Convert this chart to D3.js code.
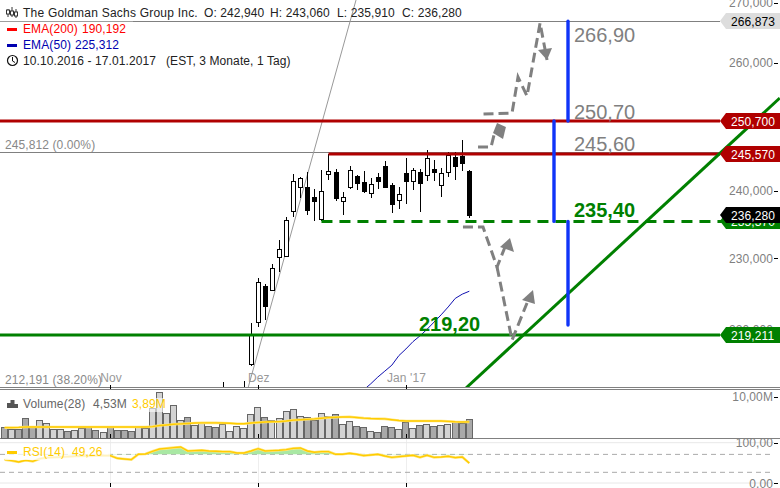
<!DOCTYPE html>
<html><head><meta charset="utf-8">
<script src="https://cdn.jsdelivr.net/npm/d3@7"></script>
<style>html,body{margin:0;padding:0;background:#fff}svg{display:block}text{font-family:"Liberation Sans",Arial,sans-serif;font-size:12px;letter-spacing:.1px}</style>
</head><body><svg id="c" width="780" height="488"></svg>
<script>
// Candles (first index = candleStart)
const candleStart = 29;
const open  = [209,208,208,210,208,208,209,215.2,221.0,226.06,225.5,230.2,230.4,236.9,240.6,240.5,239.0,235.75,242.5,242.8,238.4,240.5,242.2,241.25,239.6,242.0,243.7,240.8,238.55,242.65,241.4,242.8,242.35,243.25,240.8,242.8,245.1,245.3,242.94];
const close = [210,209,209,211,209,209,211,219.2,226.6,223.3,228.6,231.35,235.6,241.4,241.9,237.05,238.4,239.9,242.96,238.85,239.0,243.1,241.2,239.9,240.95,241.4,240.5,238.0,239.45,241.4,243.1,241.1,244.95,242.8,242.65,245.4,243.7,244.2,236.28];
const high  = [211.9,210.5,211,212.8,211,211,213,220.8,227.2,226.3,229.2,232.7,236.05,242.5,242.0,242.8,240.2,243.1,245.6,243.3,239.75,243.7,242.35,242.96,241.9,242.65,244.5,241.1,240.5,244.95,243.4,243.3,246.2,244.65,243.4,245.9,245.9,247.8,243.06];
const low   = [207,207,207,207,207,207,208,215.0,220.3,221.3,225.4,228.05,230.3,236.05,238.85,236.35,235.45,235.45,241.6,238.4,236.35,240.2,240.05,239.6,238.85,240.3,240.45,236.6,237.3,238.0,240.05,236.8,241.4,241.4,239.05,242.05,241.6,242.96,235.91];
// EMA(50), first index = emaStart
const emaStart = 52;
const ema50 = [211.8,212.6,213.5,214.3,215.1,216.4,217.3,218.3,219.1,220.0,221.0,222.0,223.1,224.3,224.9,225.312];
// Volume (millions), first index = 1
const volume = [2.66,2.18,2.18,4.84,2.9,4.35,3.63,2.18,2.18,1.61,1.94,2.42,2.9,1.94,1.45,2.9,1.94,1.94,1.69,2.9,2.42,7.26,11.13,6.05,7.98,4.35,5.08,3.15,3.87,2.9,2.66,3.39,1.69,2.9,2.42,5.81,7.5,5.08,4.35,4.84,6.53,7.02,5.32,5.08,4.35,6.05,5.32,5.81,3.39,4.11,2.9,2.66,1.69,1.45,2.9,2.66,2.18,3.87,2.42,3.15,3.39,2.9,3.15,3.39,3.87,3.63,4.53];
const volumeDown = [1,0,1,1,1,0,0,0,0,1,0,0,1,1,0,1,1,1,1,0,0,0,0,0,0,0,1,0,0,1,1,0,0,0,0,0,0,1,0,0,0,0,0,1,1,0,0,1,0,0,1,1,0,1,1,1,0,1,0,1,0,1,0,0,1,1,1];
const volumeMA = [2.5,2.5,2.55,2.65,2.65,2.65,2.65,2.65,2.65,2.65,2.65,2.65,2.65,2.65,2.65,2.65,2.65,2.65,2.65,2.65,2.65,2.75,3.0,3.15,3.3,3.4,3.5,3.6,3.65,3.65,3.65,3.6,3.55,3.45,3.45,3.6,3.75,3.87,3.9,3.95,4.1,4.3,4.4,4.5,4.6,4.75,4.9,5.0,5.05,5.08,4.95,4.8,4.7,4.65,4.6,4.4,4.2,4.1,4.1,4.1,4.1,4.1,4.1,4.0,3.9,3.85,3.89];
// RSI, first index = 1
const rsi = [57.9,55.5,52.2,56.3,53.8,60.4,62.9,63.7,64.6,65.4,66.2,67,67,67.9,67.9,67.9,61.3,59.6,58,71.2,72,78.6,84.4,86,87.7,89.4,79.5,80.3,81.1,79.5,78.6,77.8,77.8,74.5,74.5,79.5,85.2,79.5,80.3,81.1,82.8,86,86.9,79.5,76.2,77.8,77.8,71.2,71.2,73.7,71.2,67.9,69.5,71.2,67,63.7,65.4,67,68.7,63.7,68.7,63.7,64.6,66.2,62.9,64.6,49.26];
const rsiLevels = [71,26.5];
// Axis
const priceTicks = [270,260,240,230,220];
const volumeTicks = [10];
const rsiTicks = [100,0];
const monthTicks = [{i:16,label:"Nov",dx:-10},{i:37,label:"Dez",dx:-10},{i:58,label:"Jan '17",dx:-19}];
// Levels / annotations in (bar index, price)
const levels = [
 {p:266.873,label:"266,873",fill:"#dddddd",tc:"#000"},
 {p:250.7,label:"250,700",fill:"#b00000",tc:"#fff"},
 {p:245.57,label:"245,570",fill:"#b00000",tc:"#fff"},
 {p:235.4,label:"235,370",fill:"#008000",tc:"#fff"},
 {p:219.211,label:"219,211",fill:"#008000",tc:"#fff"},
 {p:236.28,label:"236,280",fill:"#000000",tc:"#fff"}];
const trendGray = [[35.57,212.04],[50.91,270.46]];
const trendGreen = [[66.53,212.04],[111.1,254.34]];
const blueBars = [[[81.02,266.9],[81.02,250.7]],[[79.03,250.7],[79.03,235.4]],[[81.02,235.4],[81.02,220.6]]];
const dashPaths = [
 [[66.1,234.57],[68.95,234.57],[70.94,228.76],[72.07,231.65]],
 [[70.94,228.76],[73.07,218.52],[75.2,223.65]],
 [[68.24,246.64],[70.09,246.64],[70.51,248.51]],
 [[69.02,251.8],[73.07,251.96],[73.92,257.71],[75.2,254.66],[77.05,266.59],[78.04,260.48]]];
const arrowHeads = [
 [[72.78,232.96],[71.36,231.65],[73.35,230.93]],
 [[76.05,225.49],[74.49,224.08],[76.33,223.52]],
 [[70.94,250.39],[72.2,249.76],[71.79,247.88],[70.37,248.82]],
 [[78.04,260.48],[76.76,262.12],[78.75,262.44]]];
const bigLabels = [
 {t:"266,90",x:574,p:266.9,dy:21,c:"#808080",w:"normal"},
 {t:"250,70",x:574,p:250.7,dy:-2.5,c:"#808080",w:"normal"},
 {t:"245,60",x:574,p:245.6,dy:-2.5,c:"#808080",w:"normal"},
 {t:"235,40",x:574,p:235.4,dy:-4,c:"#008000",w:"bold"},
 {t:"219,20",x:419,p:219.2,dy:-4,c:"#008000",w:"bold"}];

const svg = d3.select("#c");
const x = d3.scaleLinear().domain([0,67]).range([-2.4,469.3]);
const y = d3.scaleLog().domain([219.211,250.7]).range([335,121]);
const yV = d3.scaleLinear().domain([0,10]).range([438,396.5]);
const yR = d3.scaleLinear().domain([0,100]).range([483,442.7]);
const W = 780, plotR = 720;
const defs = svg.append("defs");
defs.append("clipPath").attr("id","m").append("rect").attr("x",0).attr("y",0).attr("width",W).attr("height",388);
defs.append("clipPath").attr("id","ra").append("rect").attr("x",0).attr("y",0).attr("width",W).attr("height",yR(rsiLevels[0]));
const main = svg.append("g").attr("clip-path","url(#m)");
const sx = v=>Math.round(x(v))+.5;
const ln = d3.line().x(d=>x(d[0])).y(d=>y(d[1]));

// horizontal reference lines
[[266.873],[245.812],[212.191]].forEach(([p])=>main.append("line").attr("x1",0).attr("x2",plotR).attr("y1",Math.round(y(p))+.5).attr("y2",Math.round(y(p))+.5).attr("stroke","#808080"));

// gray trend
main.append("path").attr("d",ln(trendGray)).attr("stroke","#999").attr("stroke-width",1).attr("fill","none");

// candles
open.forEach((o,k)=>{
 const i=k+candleStart,c=close[k],g=main.append("g"),cx=sx(i),up=c>=o;
 g.append("line").attr("x1",cx).attr("x2",cx).attr("y1",y(high[k])).attr("y2",y(low[k])).attr("stroke","#000").attr("shape-rendering","crispEdges");
 g.append("rect").attr("x",cx-2).attr("width",4).attr("y",Math.round(y(Math.max(o,c)))+.5).attr("height",Math.max(2,Math.round(Math.abs(y(o)-y(c))))).attr("fill",up?"#fff":"#000").attr("stroke","#000").attr("shape-rendering","crispEdges");
});

// EMA50
main.append("path").attr("d",d3.line().x((d,k)=>x(k+emaStart)).y(d=>y(d))(ema50)).attr("fill","none").attr("stroke","#1010b0").attr("stroke-width",1);

// levels
main.append("line").attr("x1",0).attr("x2",plotR).attr("y1",y(250.7)).attr("y2",y(250.7)).attr("stroke","#b00000").attr("stroke-width",3);
main.append("line").attr("x1",x(47)).attr("x2",plotR).attr("y1",y(245.57)).attr("y2",y(245.57)).attr("stroke","#b00000").attr("stroke-width",3);
main.append("line").attr("x1",0).attr("x2",plotR).attr("y1",y(219.211)).attr("y2",y(219.211)).attr("stroke","#008000").attr("stroke-width",3);
main.append("line").attr("x1",x(46)).attr("x2",W).attr("y1",y(235.4)).attr("y2",y(235.4)).attr("stroke","#008000").attr("stroke-width",3).attr("stroke-dasharray","11 7");
main.append("path").attr("d",ln(trendGreen)).attr("stroke","#008000").attr("stroke-width",3).attr("fill","none");

// dashed gray paths + heads
dashPaths.forEach(p=>main.append("path").attr("d",ln(p)).attr("fill","none").attr("stroke","#808080").attr("stroke-width",3).attr("stroke-dasharray","10 5"));
arrowHeads.forEach(p=>main.append("path").attr("d",ln(p)+"Z").attr("fill","#808080"));

// blue verticals
blueBars.forEach(b=>main.append("path").attr("d",ln(b)).attr("stroke","#1034f8").attr("stroke-width",3.4).attr("stroke-linecap","round").attr("fill","none"));

// big labels
bigLabels.forEach(d=>main.append("text").attr("x",d.x).attr("y",y(d.p)+d.dy).text(d.t).attr("fill",d.c).attr("font-weight",d.w).style("font-size","20px").style("letter-spacing","0"));

// small gray labels
const gray=(t,xx,yy,c="#888")=>svg.append("text").attr("x",xx).attr("y",yy).attr("fill",c).text(t);
gray("245,812 (0.00%)",5,149);
gray("212,191 (38.20%)",5,384);
monthTicks.forEach(m=>gray(m.label,x(m.i)+m.dx,382,"#999"));

// price axis
priceTicks.forEach(t=>{
 const yy=y(t);
 svg.append("text").attr("x",773).attr("y",yy+4.5).attr("text-anchor","end").attr("fill","#808080").text(d3.format(",")(t*1000));
 svg.append("line").attr("x1",774).attr("x2",778).attr("y1",Math.round(yy)+.5).attr("y2",Math.round(yy)+.5).attr("stroke","#000");
});

// tags
levels.forEach(l=>{
 const c=Math.round(y(l.p)),g=svg.append("g");
 g.append("path").attr("d",d3.line()([[720,c],[726,c-8],[780,c-8],[780,c+8],[726,c+8]])+"Z").attr("fill",l.fill);
 g.append("text").attr("x",731).attr("y",c+4.5).attr("fill",l.tc).text(l.label);
});

// panel frames
[[387.5,"#808080"],[389.5,"#808080"],[438.5,"#808080"]].forEach(([yy,c])=>svg.append("line").attr("x1",0).attr("x2",W).attr("y1",yy).attr("y2",yy).attr("stroke",c));

// month grid
monthTicks.forEach(m=>{
 const xx=sx(m.i);
 svg.append("line").attr("x1",xx).attr("x2",xx).attr("y1",439).attr("y2",483).attr("stroke","#eeeeee");
});

// volume
volume.forEach((v,k)=>{
 const i=k+1,cx=Math.round(x(i)-.7)+.5;
 svg.append("rect").attr("x",cx-3).attr("width",6).attr("y",Math.round(yV(v))+.5).attr("height",438-Math.round(yV(v))).attr("fill",volumeDown[k]?"#a9a9a9":"#d3d3d3").attr("stroke","#666").attr("shape-rendering","crispEdges");
});
const lineV=d3.line().x((d,k)=>x(k+1)).y(d=>yV(d));
svg.append("path").attr("d",lineV(volumeMA)).attr("fill","none").attr("stroke","#ffe680").attr("stroke-width",2.6);
svg.append("path").attr("d",lineV(volumeMA)).attr("fill","none").attr("stroke","#ffcc00").attr("stroke-width",1.4);

// RSI
rsiTicks.forEach(t=>svg.append("line").attr("x1",0).attr("x2",W-6).attr("y1",yR(t)).attr("y2",yR(t)).attr("stroke","#e8e8e8"));
rsiLevels.forEach(t=>svg.append("line").attr("x1",0).attr("x2",W-6).attr("y1",yR(t)).attr("y2",yR(t)).attr("stroke","#aaa").attr("stroke-dasharray","5 4"));
svg.append("path").attr("clip-path","url(#ra)").attr("d",d3.area().x((d,k)=>x(k+1)).y0(yR(rsiLevels[0])).y1(d=>yR(d))(rsi)).attr("fill","#a9e8a4");
const lineR=d3.line().x((d,k)=>x(k+1)).y(d=>yR(d));
svg.append("path").attr("d",lineR(rsi)).attr("fill","none").attr("stroke","#ffe680").attr("stroke-width",2.6);
svg.append("path").attr("d",lineR(rsi)).attr("fill","none").attr("stroke","#ffcc00").attr("stroke-width",1.4);

// x ticks
monthTicks.forEach(m=>{
 const xx=sx(m.i);
 [[385,389],[434,438],[483,487]].forEach(([a,b])=>svg.append("line").attr("x1",xx).attr("x2",xx).attr("y1",a).attr("y2",b).attr("stroke","#000"));
});

// lower axes
volumeTicks.forEach(t=>{
 svg.append("text").attr("x",773).attr("y",yV(t)+4.5).attr("text-anchor","end").attr("fill","#808080").text(t+",00M");
 svg.append("line").attr("x1",774).attr("x2",778).attr("y1",Math.round(yV(t))+.5).attr("y2",Math.round(yV(t))+.5).attr("stroke","#000");
});
rsiTicks.forEach(t=>{
 svg.append("text").attr("x",773).attr("y",yR(t)+4.5).attr("text-anchor","end").attr("fill","#808080").text(t+",00");
 svg.append("line").attr("x1",774).attr("x2",778).attr("y1",Math.round(yR(t))+.5).attr("y2",Math.round(yR(t))+.5).attr("stroke","#000");
});

// legends
svg.append("rect").attr("x",0).attr("y",2).attr("width",133).attr("height",19.4).attr("fill","#fff").attr("opacity",.6);
svg.append("rect").attr("x",5).attr("y",398).attr("width",165).attr("height",14).attr("fill","#fff").attr("opacity",.6);
svg.append("rect").attr("x",5).attr("y",446).attr("width",105).attr("height",14).attr("fill","#fff").attr("opacity",.75);
const T=(t,xx,yy,c)=>svg.append("text").attr("x",xx).attr("y",yy).attr("fill",c).text(t);
// candle icon
[[8,9,17,10,14],[12,7,17,11,15],[16,9,18,12,16]].forEach(([cx,a,b,c,d])=>{
 svg.append("line").attr("x1",cx).attr("x2",cx).attr("y1",a).attr("y2",b).attr("stroke","#333");
 svg.append("rect").attr("x",cx-1.5).attr("y",c).attr("width",3).attr("height",d-c).attr("fill","#fff").attr("stroke","#333");
});
T("The Goldman Sachs Group Inc.",23,17,"#222").style("letter-spacing",".22px");
T("O: 242,940",204,17,"#222");T("H: 243,060",270,17,"#222");T("L: 235,910",337,17,"#222");T("C: 236,280",402,17,"#222");
svg.append("rect").attr("x",7).attr("y",28).attr("width",10).attr("height",3).attr("fill","#ff0000");
T("EMA(200)",23,33,"#ff0000");T("190,192",82,33,"#ff0000");
svg.append("rect").attr("x",7).attr("y",44).attr("width",10).attr("height",3).attr("fill","#0000b0");
T("EMA(50)",23,49,"#0000b0");T("225,312",75,49,"#0000b0");
svg.append("circle").attr("cx",12.5).attr("cy",60.5).attr("r",5).attr("fill","none").attr("stroke","#111").attr("stroke-width",1.2);
svg.append("path").attr("d","M12.5 57V61L15 62.5").attr("fill","none").attr("stroke","#111");
T("10.10.2016 - 17.01.2017",23,65,"#222");T("(EST, 3 Monate, 1 Tag)",166,65,"#222");

// volume legend
[[8,5],[11.5,8],[15,4]].forEach(([xx,h])=>svg.append("rect").attr("x",xx-1).attr("y",408-h).attr("width",4).attr("height",h).attr("fill","#555"));
T("Volume(28)",23,408,"#666");T("4,53M",93,408,"#666");T("3,89M",132,408,"#ffcc00");
svg.append("rect").attr("x",7).attr("y",451).attr("width",10).attr("height",3).attr("fill","#ffcc00");
T("RSI(14)",23,456,"#ffcc00");T("49,26",72,456,"#ffcc00");
</script></body></html>
